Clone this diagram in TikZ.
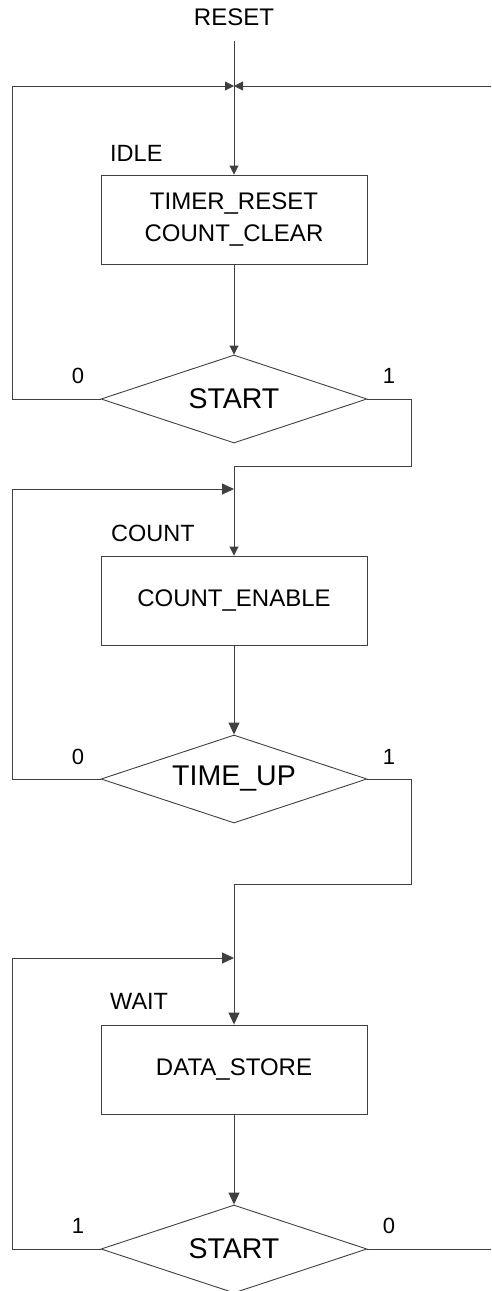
\documentclass[tikz,border=0pt]{standalone}
\usepackage{fontspec}
\setmainfont{Liberation Sans}
\usetikzlibrary{shapes.geometric,arrows.meta}
\begin{document}
\begin{tikzpicture}[x=1pt,y=1pt,
  wire/.style={draw=black!75,line width=0.9pt},
  tipS/.style={-{Triangle[length=9pt,width=9pt]}},
  tipL/.style={-{Triangle[length=12pt,width=11pt]}},
  statebox/.style={draw=black!75,line width=0.9pt,minimum width=266pt,
    minimum height=89pt,inner sep=0pt,align=center,
    font=\fontsize{24}{32}\selectfont},
  test/.style={diamond,draw=black!75,line width=0.9pt,minimum width=266pt,
    minimum height=88pt,inner sep=0pt},
  testtext/.style={inner sep=0pt,font=\fontsize{28.5}{32}\selectfont},
  tag/.style={inner sep=0pt,anchor=base west,font=\fontsize{23.5}{28}\selectfont},
  branch/.style={inner sep=0pt,anchor=base,font=\fontsize{22}{26}\selectfont}]
\useasboundingbox (0,0) rectangle (491,-1291);

% reset input
\node[inner sep=0pt,font=\fontsize{24}{28}\selectfont] (reset) at (234,-17.5) {RESET};
\coordinate (rs) at (234,-41);
\coordinate (J1) at (234,-86);
\coordinate (lp1) at (12,-86);
\coordinate (rt1) at (491,-86);

% IDLE state
\node[tag] (idleTag) at (110,-161) {IDLE};
\node[statebox] (idle) at (234,-219.5) {TIMER\_RESET\\COUNT\_CLEAR};
\node[test] (d1) at (234,-399) {};
\node[testtext] (d1txt) at (d1.center) {START};
\node[branch] (d1no) at (78,-383) {0};
\node[branch] (d1yes) at (389,-383) {1};
\coordinate (jg1) at (411,-466);

% COUNT state
\coordinate (J2) at (234,-489);
\coordinate (lp2) at (12,-489);
\node[tag] (countTag) at (111,-541) {COUNT};
\node[statebox] (count) at (234,-600.5) {COUNT\_ENABLE};
\node[test] (d2) at (234,-779) {};
\node[testtext] (d2txt) at (d2.center) {TIME\_UP};
\node[branch] (d2no) at (78,-764) {0};
\node[branch] (d2yes) at (389,-764) {1};
\coordinate (jg2) at (411,-884);

% WAIT state
\coordinate (J3) at (234,-958);
\coordinate (lp3) at (12,-958);
\node[tag] (waitTag) at (110,-1009) {WAIT};
\node[statebox] (wait) at (234,-1069.5) {DATA\_STORE};
\node[test] (d3) at (234,-1249) {};
\node[testtext] (d3txt) at (d3.center) {START};
\node[branch] (d3yes) at (78,-1233) {1};
\node[branch] (d3no) at (389,-1233) {0};
\coordinate (rt3) at (491,-1249);

% connectors
\draw[wire,tipS] (rs) -- (idle.north);
\draw[wire,tipS] (d1.west) -| (lp1) -- (J1);
\draw[wire,tipS] (rt1) -- (J1);
\draw[wire,tipS] (idle.south) -- (d1.north);
\draw[wire,tipS] (d1.east) -| (jg1) -| (count.north);
\draw[wire,tipL] (d2.west) -| (lp2) -- (J2);
\draw[wire,tipL] (count.south) -- (d2.north);
\draw[wire,tipL] (d2.east) -| (jg2) -| (wait.north);
\draw[wire,tipL] (d3.west) -| (lp3) -- (J3);
\draw[wire,tipL] (wait.south) -- (d3.north);
\draw[wire] (d3.east) -- (rt3);
\end{tikzpicture}
\end{document}
